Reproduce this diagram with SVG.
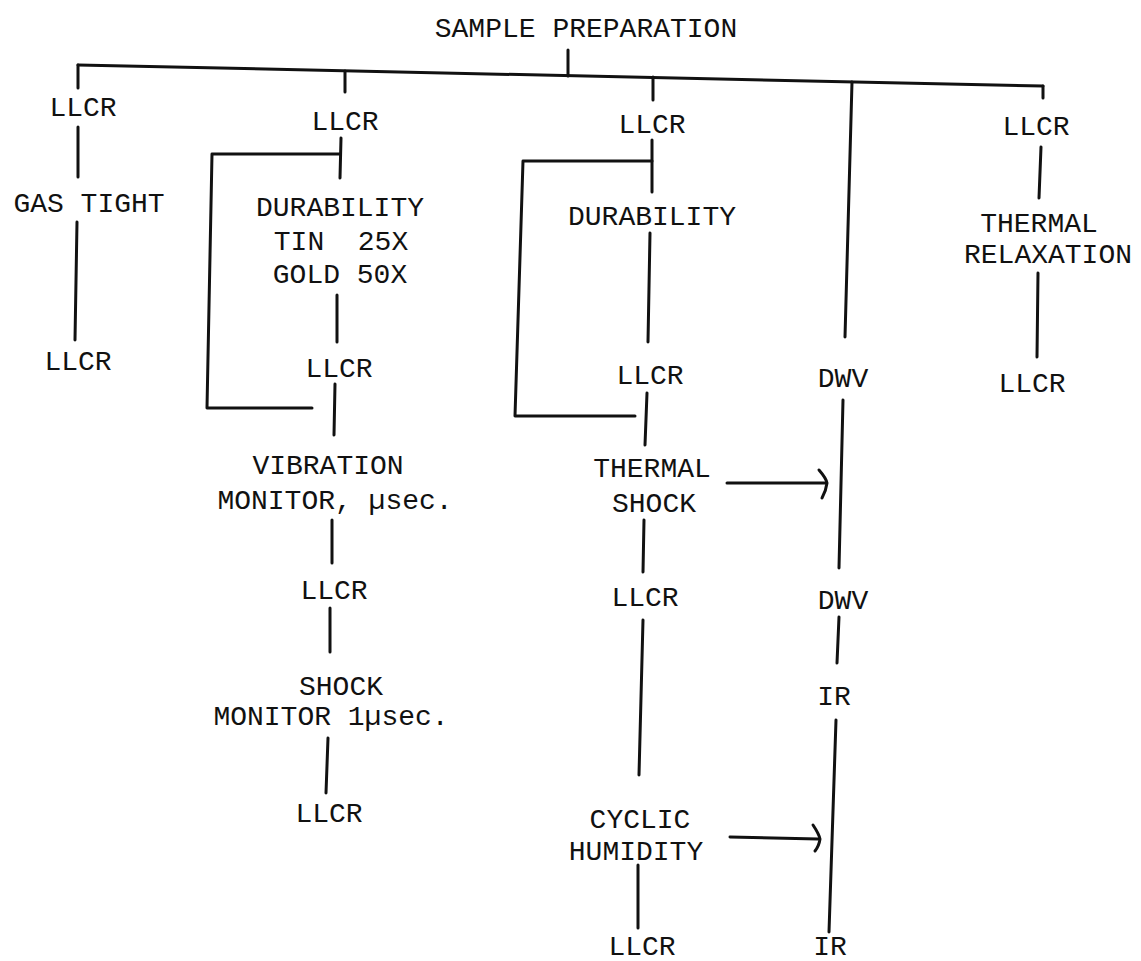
<svg xmlns="http://www.w3.org/2000/svg" width="1141" height="961" viewBox="0 0 1141 961">
<style>
text{font-family:"Liberation Mono","Courier New",monospace;font-size:28px;fill:#111;text-anchor:middle}
.c line,.c polyline,.c path{stroke:#111;stroke-width:3;fill:none;stroke-linecap:round;stroke-linejoin:round}
</style>
<rect width="1141" height="961" fill="#fff"/>
<g class="c" id="connectors">
<line x1="568" y1="50" x2="568" y2="76"/>
<line x1="78" y1="65" x2="1043" y2="86"/>
<line x1="78" y1="65" x2="78" y2="88"/>
<line x1="345" y1="71" x2="345" y2="92"/>
<line x1="653" y1="77" x2="653" y2="100"/>
<line x1="852" y1="82" x2="845" y2="337"/>
<line x1="1043" y1="86" x2="1043" y2="98"/>
<line x1="78" y1="127" x2="78" y2="177"/>
<line x1="77" y1="222" x2="75" y2="340"/>
<line x1="341" y1="138" x2="340" y2="178"/>
<polyline points="340,154 212,154 207,408 312,408"/>
<line x1="337" y1="295" x2="337" y2="342"/>
<line x1="335" y1="384" x2="334" y2="435"/>
<line x1="332" y1="520" x2="332" y2="563"/>
<line x1="330" y1="608" x2="330" y2="652"/>
<line x1="328" y1="738" x2="326" y2="793"/>
<line x1="652" y1="140" x2="652" y2="192"/>
<polyline points="652,161 523,161 515,416 635,416"/>
<line x1="650" y1="233" x2="648" y2="342"/>
<line x1="647" y1="393" x2="645" y2="445"/>
<line x1="644" y1="520" x2="643" y2="572"/>
<line x1="643" y1="620" x2="639" y2="775"/>
<line x1="638" y1="865" x2="638" y2="928"/>
<line x1="843" y1="400" x2="839" y2="568"/>
<line x1="839" y1="617" x2="837" y2="663"/>
<line x1="836" y1="720" x2="829" y2="932"/>
<line x1="1041" y1="147" x2="1039" y2="198"/>
<line x1="1038" y1="273" x2="1037" y2="357"/>
<line x1="727" y1="483" x2="825" y2="483"/>
<path d="M819,470 Q826,478 827,483 Q826,491 822,498" stroke-width="4"/>
<line x1="730" y1="837" x2="818" y2="839"/>
<path d="M813,825 Q819,834 820,839 Q819,846 815,851" stroke-width="4"/>
</g>
<g id="sample"><text x="586" y="37">SAMPLE PREPARATION</text></g>
<g id="c1-llcr1"><text x="83" y="116">LLCR</text></g>
<g id="c1-gas"><text x="89" y="212">GAS TIGHT</text></g>
<g id="c1-llcr2"><text x="78" y="370">LLCR</text></g>
<g id="c2-llcr1"><text x="345" y="130">LLCR</text></g>
<g id="c2-dur"><text x="340" y="216">DURABILITY</text><text x="341" y="250" xml:space="preserve">TIN  25X</text><text x="340" y="283">GOLD 50X</text></g>
<g id="c2-llcr2"><text x="339" y="377">LLCR</text></g>
<g id="c2-vib"><text x="328" y="474">VIBRATION</text><text x="335" y="509">MONITOR, µsec.</text></g>
<g id="c2-llcr3"><text x="334" y="599">LLCR</text></g>
<g id="c2-shock"><text x="341" y="695">SHOCK</text><text x="331" y="725">MONITOR 1µsec.</text></g>
<g id="c2-llcr4"><text x="329" y="822">LLCR</text></g>
<g id="c3-llcr1"><text x="652" y="133">LLCR</text></g>
<g id="c3-dur"><text x="652" y="225">DURABILITY</text></g>
<g id="c3-llcr2"><text x="650" y="384">LLCR</text></g>
<g id="c3-ts"><text x="652" y="477">THERMAL</text><text x="654" y="512">SHOCK</text></g>
<g id="c3-llcr3"><text x="645" y="606">LLCR</text></g>
<g id="c3-ch"><text x="640" y="828">CYCLIC</text><text x="636" y="860">HUMIDITY</text></g>
<g id="c3-llcr4"><text x="642" y="955">LLCR</text></g>
<g id="c4-dwv1"><text x="843" y="387">DWV</text></g>
<g id="c4-dwv2"><text x="843" y="609">DWV</text></g>
<g id="c4-ir1"><text x="834" y="705">IR</text></g>
<g id="c4-ir2"><text x="830" y="955">IR</text></g>
<g id="c5-llcr1"><text x="1036" y="135">LLCR</text></g>
<g id="c5-tr"><text x="1039" y="232">THERMAL</text><text x="1048" y="263">RELAXATION</text></g>
<g id="c5-llcr2"><text x="1032" y="392">LLCR</text></g>
</svg>
